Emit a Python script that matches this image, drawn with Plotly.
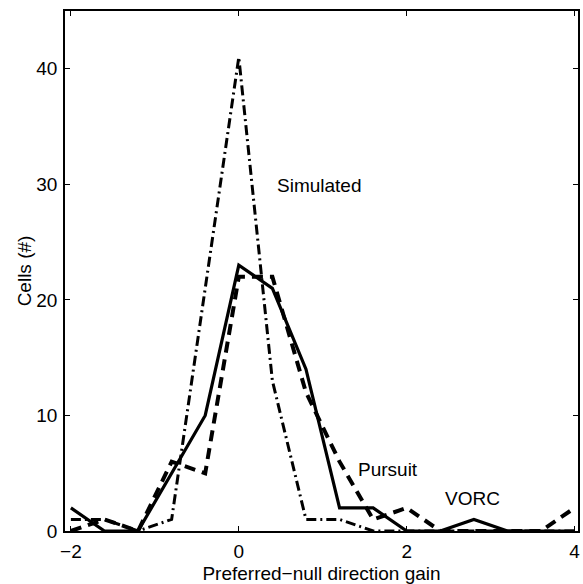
import plotly.graph_objects as go

# bin centres (preferred-null direction gain)
gain = [-2.0, -1.6, -1.2, -0.8, -0.4, 0.0, 0.4, 0.8, 1.2, 1.6, 2.0, 2.4, 2.8, 3.2, 3.6, 4.0]

# cell counts
vorc      = [2, 0, 0, 5, 10, 23, 21, 14, 2, 2, 0, 0, 1, 0, 0, 0]
pursuit   = [0, 1, 0, 6, 5, 22, 22, 12, 6, 1, 2, 0, 0, 0, 0, 2]
simulated = [1, 1, 0, 1, 21, 41, 13, 1, 1, 0, 0, 0, 0, 0, 0, 0]

x_ticks = [-2, 0, 2, 4]
y_ticks = [0, 10, 20, 30, 40]

FONT = "Liberation Sans, Arial, Helvetica, sans-serif"
FS = 19

fig = go.Figure()
fig.add_trace(go.Scatter(x=gain, y=simulated, mode="lines", name="Simulated",
                         line=dict(color="black", width=3, dash="10px,4px,2px,4px")))
fig.add_trace(go.Scatter(x=gain, y=pursuit, mode="lines", name="Pursuit",
                         line=dict(color="black", width=4, dash="11px,7px")))
fig.add_trace(go.Scatter(x=gain, y=vorc, mode="lines", name="VORC",
                         line=dict(color="black", width=3.2)))

annots = [("Simulated", 0.43, 29.9), ("Pursuit", 1.40, 5.3), ("VORC", 2.43, 2.85)]
for txt, ax_, ay_ in annots:
    fig.add_annotation(x=ax_, y=ay_, text=txt, showarrow=False, xanchor="left",
                       yanchor="middle", font=dict(family=FONT, size=FS, color="black"))

axis_common = dict(showgrid=False, zeroline=False, showline=True, linecolor="black",
                   linewidth=1.5, mirror="ticks", ticks="inside", ticklen=5,
                   tickcolor="black", tickwidth=1, automargin=False,
                   tickfont=dict(family=FONT, size=FS, color="black"))

fig.update_xaxes(range=[-2.07, 4.04], tickvals=x_ticks, ticktext=["\u22122", "0", "2", "4"],
                 ticklabelstandoff=2,
                 title=dict(text="Preferred\u2212null direction gain",
                            font=dict(family=FONT, size=FS, color="black"), standoff=8),
                 **axis_common)
fig.update_yaxes(range=[0, 45], tickvals=y_ticks, ticklabelstandoff=2,
                 title=dict(text="Cells (#)", font=dict(family=FONT, size=FS, color="black"),
                            standoff=0),
                 **axis_common)

fig.update_layout(width=583, height=584, showlegend=False,
                  margin=dict(l=65, r=5, t=11, b=53),
                  plot_bgcolor="white", paper_bgcolor="white")

fig.write_html("out.html", config={"displayModeBar": False},
               post_script="document.body.style.margin='0';document.body.style.overflow='hidden';")
